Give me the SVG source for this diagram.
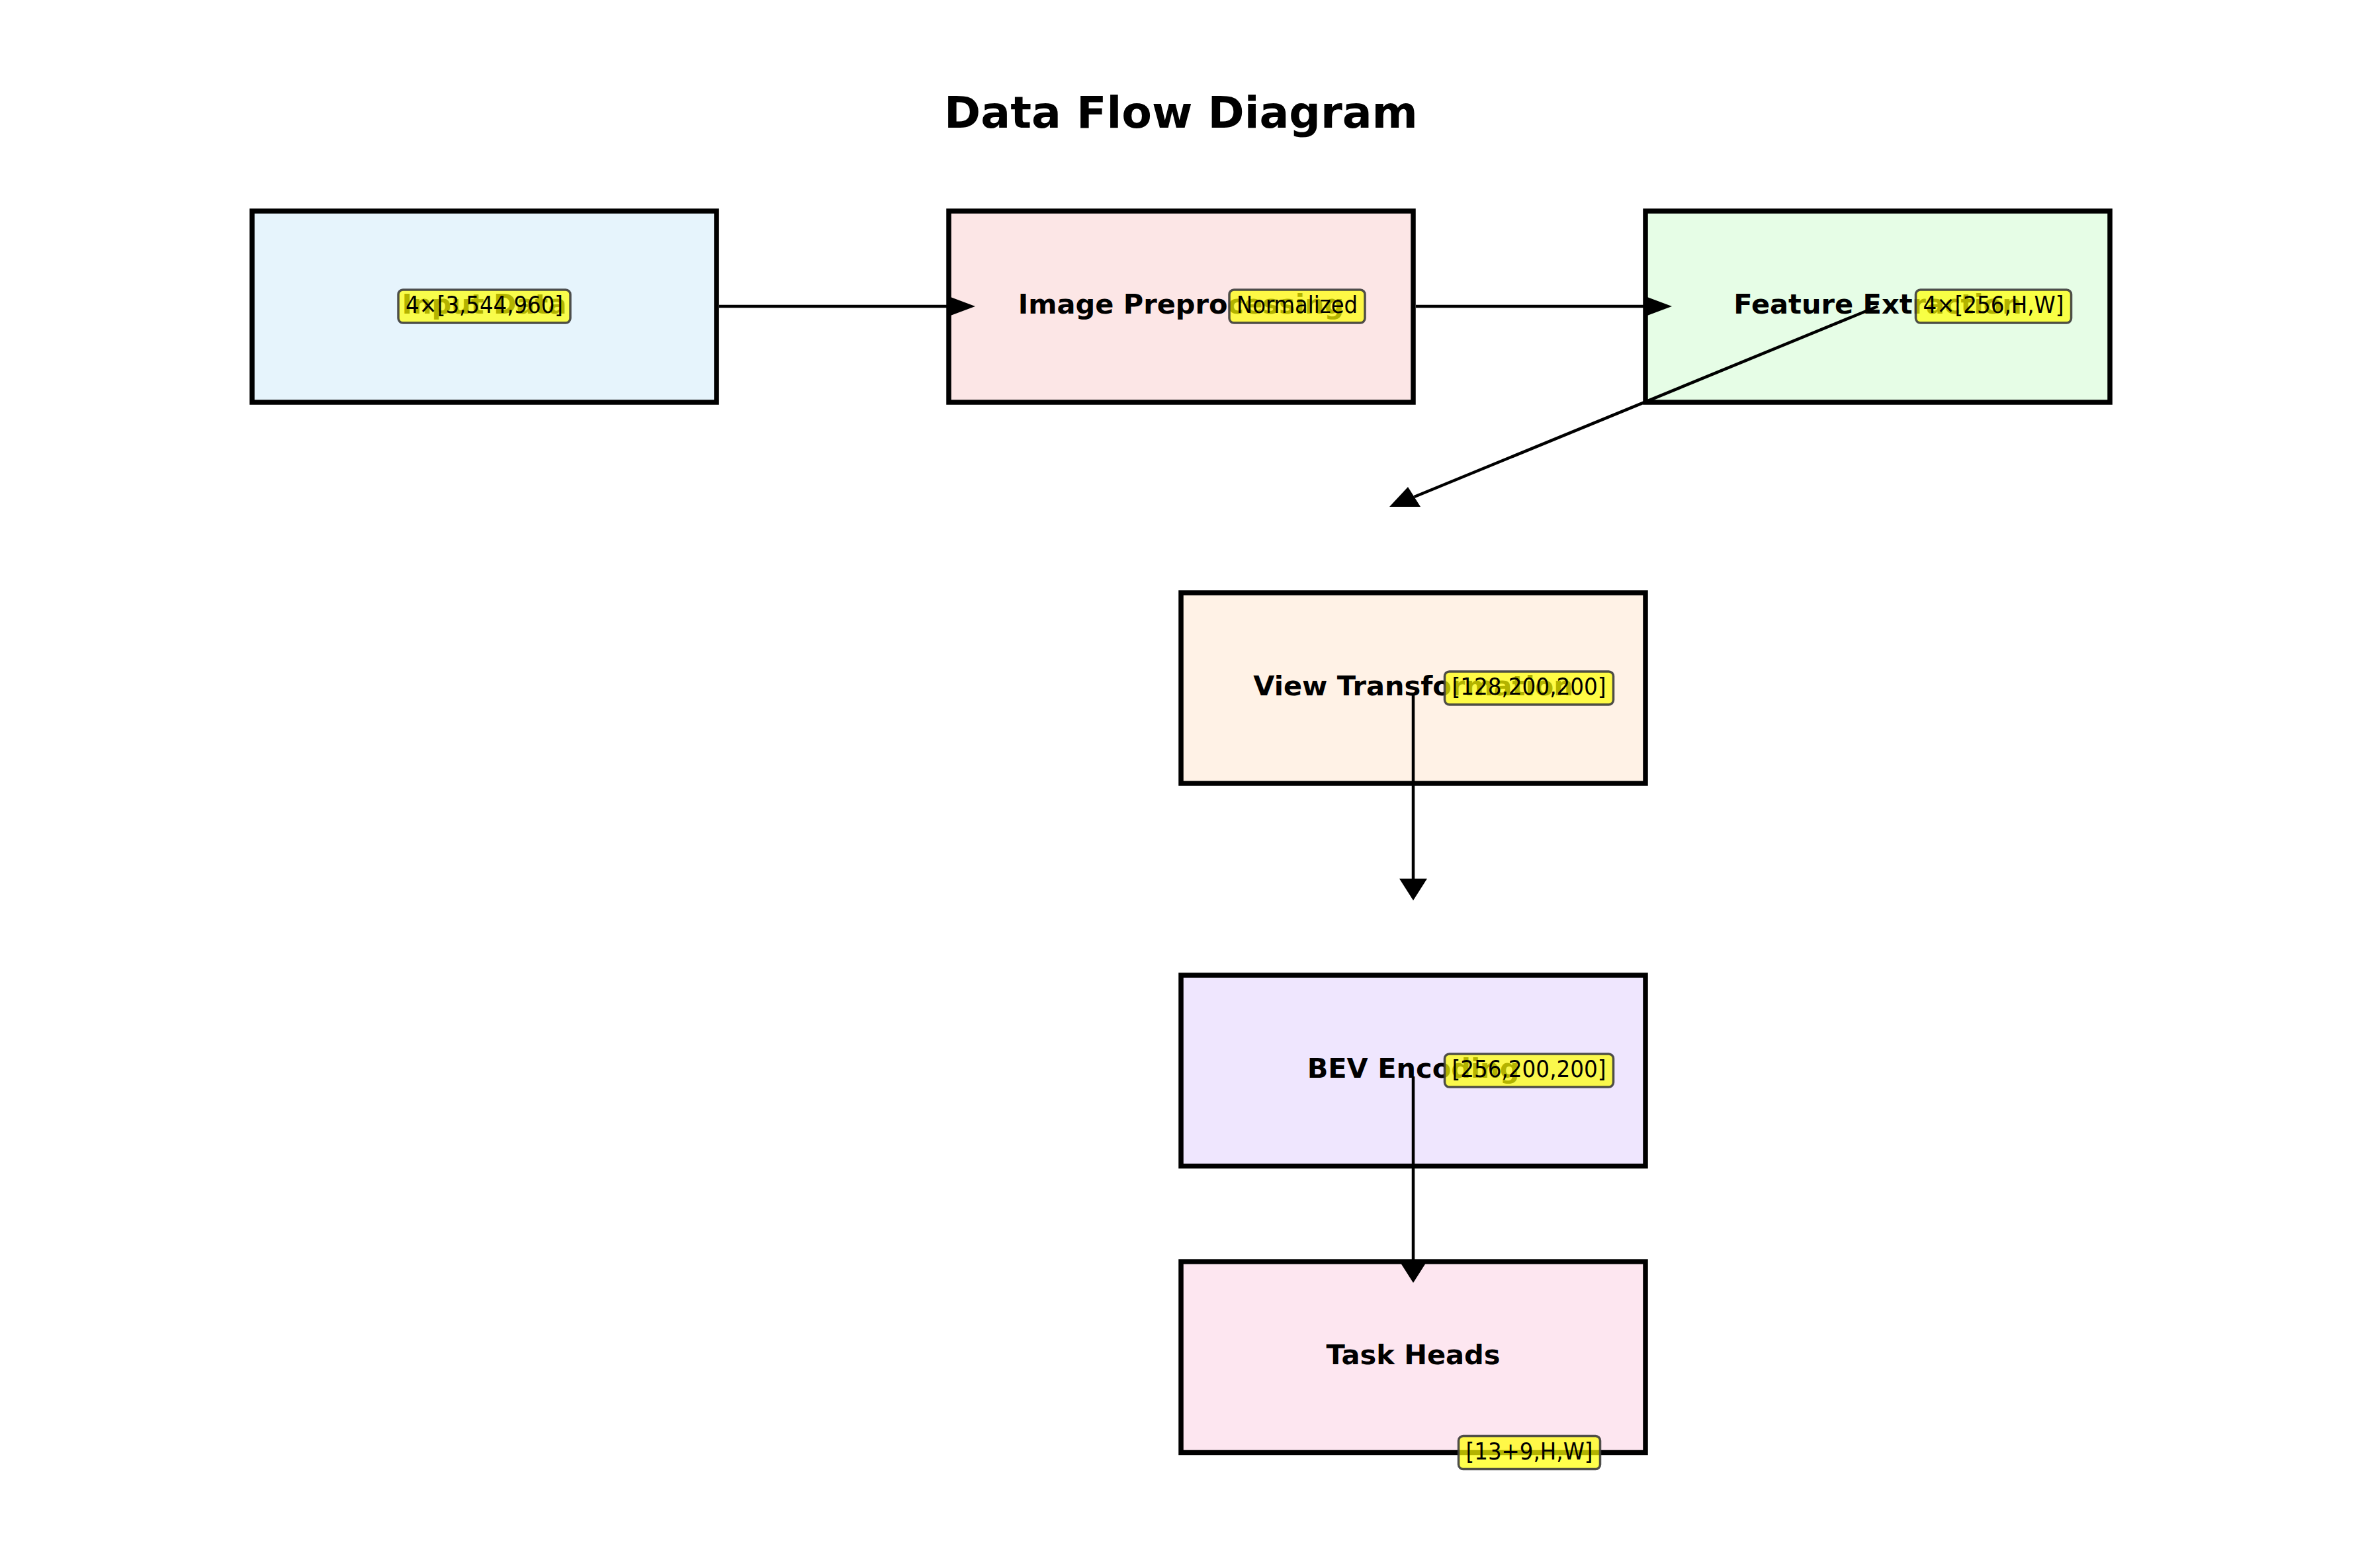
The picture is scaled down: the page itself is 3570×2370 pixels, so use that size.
<svg xmlns="http://www.w3.org/2000/svg" width="3570" height="2370" viewBox="0 0 3570 2370">
<style>
.box{stroke:#000;stroke-width:7.5}
.nt{font-family:"DejaVu Sans","Liberation Sans",sans-serif;font-weight:bold;font-size:41.5px;text-anchor:middle;fill:#000}
.lb{fill:#ffff00;fill-opacity:0.7;stroke:#3c3c3c;stroke-opacity:0.9;stroke-width:3.5}
.lt{font-family:"DejaVu Sans","Liberation Sans",sans-serif;font-size:36px;text-anchor:middle;fill:#000}
.ln{stroke:#000;stroke-width:4.5;fill:none}
.hd{fill:#000;stroke:none}
</style>
<rect x="0" y="0" width="3570" height="2370" fill="#fff"/>
<text x="1785" y="193" font-family="DejaVu Sans, Liberation Sans, sans-serif" font-weight="bold" font-size="66.5" text-anchor="middle">Data Flow Diagram</text>
<g id="node-input">
<rect class="box" x="381" y="319" width="702" height="289" fill="#E6F4FC"/>
<text class="nt" x="732" y="474">Input Data</text>
<rect class="lb" x="602" y="438" width="260" height="50" rx="7"/>
<text class="lt" x="732" y="473" textLength="238" lengthAdjust="spacingAndGlyphs">4×[3,544,960]</text>
</g>
<g id="node-preprocessing">
<rect class="box" x="1434" y="319" width="702" height="289" fill="#FCE6E6"/>
<text class="nt" x="1785" y="474">Image Preprocessing</text>
<rect class="lb" x="1858" y="438" width="205" height="50" rx="7"/>
<text class="lt" x="1960.5" y="473" textLength="183" lengthAdjust="spacingAndGlyphs">Normalized</text>
</g>
<g id="node-feature">
<rect class="box" x="2487" y="319" width="702" height="289" fill="#E6FDE6"/>
<text class="nt" x="2838" y="474">Feature Extraction</text>
<rect class="lb" x="2895.5" y="438" width="235" height="50" rx="7"/>
<text class="lt" x="3013" y="473" textLength="213" lengthAdjust="spacingAndGlyphs">4×[256,H,W]</text>
</g>
<g id="node-view">
<rect class="box" x="1785" y="896" width="702" height="288" fill="#FFF2E6"/>
<text class="nt" x="2136" y="1051">View Transformation</text>
<rect class="lb" x="2183.5" y="1015" width="255" height="50" rx="7"/>
<text class="lt" x="2311" y="1050" textLength="233" lengthAdjust="spacingAndGlyphs">[128,200,200]</text>
</g>
<g id="node-bev">
<rect class="box" x="1785" y="1474" width="702" height="288.5" fill="#EFE6FE"/>
<text class="nt" x="2136" y="1629">BEV Encoding</text>
<rect class="lb" x="2183.5" y="1593" width="255" height="50" rx="7"/>
<text class="lt" x="2311" y="1628" textLength="233" lengthAdjust="spacingAndGlyphs">[256,200,200]</text>
</g>
<g id="node-heads">
<rect class="box" x="1785" y="1907" width="702" height="288.5" fill="#FDE6F0"/>
<text class="nt" x="2136" y="2062">Task Heads</text>
<rect class="lb" x="2204.5" y="2170.5" width="214" height="50" rx="7"/>
<text class="lt" x="2311.5" y="2206" textLength="192" lengthAdjust="spacingAndGlyphs">[13+9,H,W]</text>
</g>
<g id="connectors">
<line class="ln" x1="1087" y1="463" x2="1436" y2="463"/>
<polygon class="hd" points="1474,463 1434,448 1434,478"/>
<line class="ln" x1="2140" y1="463" x2="2489" y2="463"/>
<polygon class="hd" points="2527,463 2487,448 2487,478"/>
<line class="ln" x1="2838" y1="463" x2="2137.5" y2="751"/>
<polygon class="hd" points="2100,766 2147,766 2128,736"/>
<line class="ln" x1="2136" y1="1048" x2="2136" y2="1330"/>
<polygon class="hd" points="2136,1361 2115,1328 2157,1328"/>
<line class="ln" x1="2136" y1="1627" x2="2136" y2="1908"/>
<polygon class="hd" points="2136,1939 2115,1906 2157,1906"/>
</g>
</svg>
